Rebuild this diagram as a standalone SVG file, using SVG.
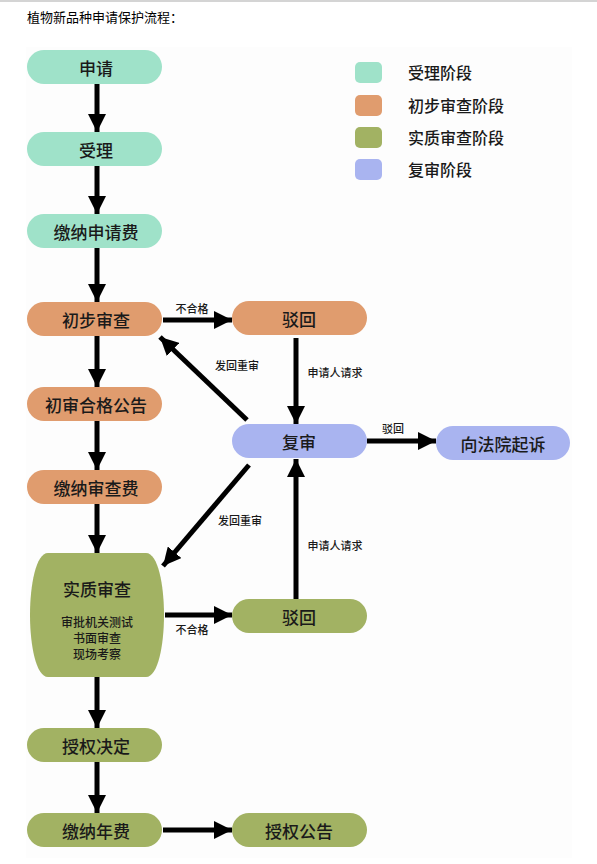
<svg xmlns="http://www.w3.org/2000/svg" width="597" height="864" viewBox="0 0 597 864">
<defs>
<marker id="ah" markerUnits="userSpaceOnUse" markerWidth="20" markerHeight="18" refX="18" refY="9" orient="auto">
<path d="M0,0 L18,9 L0,18 Z" fill="#000"/>
</marker>
<style>
.t{font-family:"Noto Sans CJK SC","Noto Sans",sans-serif;fill:#1a1a1a;text-anchor:middle;dominant-baseline:central}
.n{font-size:17px;font-weight:500}
.s{font-size:11px;font-weight:500}
.m{font-size:12px;font-weight:500}
.lg{font-family:"Noto Sans CJK SC","Noto Sans",sans-serif;font-size:16px;font-weight:500;fill:#1a1a1a;dominant-baseline:central}
.a{stroke:#000;stroke-width:5;fill:none;marker-end:url(#ah)}
.teal{fill:#9fe2c9}
.orng{fill:#e09c6e}
.grn{fill:#a2b263}
.blu{fill:#a9b4f0}
</style>
</defs>
<rect width="597" height="864" fill="#fff"/>
<rect x="0" y="0" width="597" height="2" fill="#d4d4d4"/>
<text x="27" y="16" font-family="'Noto Sans CJK SC',sans-serif" font-size="13" fill="#000" dominant-baseline="central">植物新品种申请保护流程：</text>
<rect x="26" y="47" width="546" height="811" fill="#fdfdfd"/>

<g id="legend">
<rect x="355" y="62" width="27" height="21" rx="5" class="teal"/>
<text x="408" y="72" class="lg">受理阶段</text>
<rect x="355" y="95" width="27" height="21" rx="5" class="orng"/>
<text x="408" y="105" class="lg">初步审查阶段</text>
<rect x="355" y="127" width="27" height="21" rx="5" class="grn"/>
<text x="408" y="137" class="lg">实质审查阶段</text>
<rect x="355" y="159" width="27" height="21" rx="5" class="blu"/>
<text x="408" y="169" class="lg">复审阶段</text>
</g>

<g id="connectors">
<line x1="97" y1="84" x2="97" y2="132" class="a"/>
<line x1="97" y1="166" x2="97" y2="214" class="a"/>
<line x1="97" y1="248" x2="97" y2="302" class="a"/>
<line x1="97" y1="336" x2="97" y2="387" class="a"/>
<line x1="97" y1="421" x2="97" y2="470" class="a"/>
<line x1="97" y1="504" x2="97" y2="553" class="a"/>
<line x1="97" y1="677" x2="97" y2="728" class="a"/>
<line x1="97" y1="762" x2="97" y2="813" class="a"/>
<line x1="163" y1="320" x2="232" y2="320" class="a"/>
<line x1="296" y1="338" x2="296" y2="424" class="a"/>
<line x1="247" y1="420" x2="160" y2="337" class="a"/>
<line x1="367" y1="441" x2="436" y2="441" class="a"/>
<line x1="249" y1="465" x2="163" y2="566" class="a"/>
<line x1="296" y1="599" x2="296" y2="459" class="a"/>
<line x1="165" y1="615" x2="232" y2="615" class="a"/>
<line x1="163" y1="830" x2="232" y2="830" class="a"/>
<text x="192" y="308" class="t s">不合格</text>
<text x="335" y="372" class="t s">申请人请求</text>
<text x="237" y="365" class="t s">发回重审</text>
<text x="393" y="428" class="t s">驳回</text>
<text x="240" y="520" class="t s">发回重审</text>
<text x="335" y="545" class="t s">申请人请求</text>
<text x="192" y="629" class="t s">不合格</text>
</g>

<g id="n-shenqing"><rect x="27" y="50" width="135" height="34" rx="17" class="teal"/><text x="96" y="67" class="t n">申请</text></g>
<g id="n-shouli"><rect x="27" y="132" width="135" height="34" rx="17" class="teal"/><text x="96" y="149" class="t n">受理</text></g>
<g id="n-jiaonashenqingfei"><rect x="27" y="214" width="135" height="34" rx="17" class="teal"/><text x="96" y="231" class="t n">缴纳申请费</text></g>
<g id="n-chubushencha"><rect x="27" y="302" width="135" height="34" rx="17" class="orng"/><text x="96" y="319" class="t n">初步审查</text></g>
<g id="n-chushengonggao"><rect x="27" y="387" width="135" height="34" rx="17" class="orng"/><text x="96" y="404" class="t n">初审合格公告</text></g>
<g id="n-jiaonashenchafei"><rect x="27" y="470" width="135" height="34" rx="17" class="orng"/><text x="96" y="487" class="t n">缴纳审查费</text></g>
<g id="n-shizhishencha"><path d="M48,553 L146,553 C158,553 164,585 164,615 C164,645 158,677 146,677 L48,677 C36,677 30,645 30,615 C30,585 36,553 48,553 Z" class="grn"/>
<text x="97" y="588" class="t n">实质审查</text>
<text x="97" y="621" class="t m">审批机关测试</text>
<text x="97" y="637" class="t m">书面审查</text>
<text x="97" y="653" class="t m">现场考察</text></g>
<g id="n-shouquanjueding"><rect x="27" y="728" width="135" height="34" rx="17" class="grn"/><text x="96" y="745" class="t n">授权决定</text></g>
<g id="n-jiaonanianfei"><rect x="27" y="813" width="135" height="34" rx="17" class="grn"/><text x="96" y="830" class="t n">缴纳年费</text></g>
<g id="n-bohui1"><rect x="232" y="301" width="135" height="34" rx="17" class="orng"/><text x="299" y="318" class="t n">驳回</text></g>
<g id="n-fushen"><rect x="232" y="424" width="135" height="34" rx="17" class="blu"/><text x="299" y="441" class="t n">复审</text></g>
<g id="n-fayuan"><rect x="436" y="426" width="134" height="34" rx="17" class="blu"/><text x="503" y="443" class="t n">向法院起诉</text></g>
<g id="n-bohui2"><rect x="232" y="599" width="135" height="34" rx="17" class="grn"/><text x="299" y="616" class="t n">驳回</text></g>
<g id="n-shouquangonggao"><rect x="232" y="813" width="135" height="34" rx="17" class="grn"/><text x="299" y="830" class="t n">授权公告</text></g>
</svg>
